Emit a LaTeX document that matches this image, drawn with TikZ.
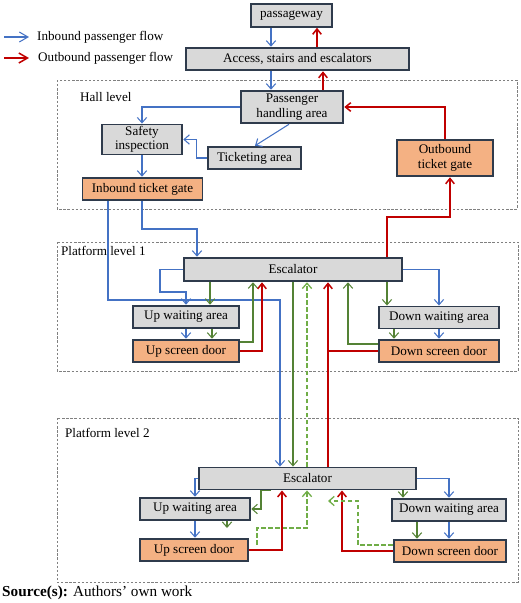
\documentclass[tikz,border=0pt]{standalone}
\usepackage{fontspec}
\setmainfont{Liberation Serif}
\usepackage{tikz}
\usetikzlibrary{arrows.meta, positioning}

\definecolor{inblue}{HTML}{4472C4}
\definecolor{outred}{HTML}{C00000}
\definecolor{xfergreen}{HTML}{548235}
\definecolor{dashgreen}{HTML}{70AD47}
\definecolor{boxline}{HTML}{2F3B4C}
\definecolor{boxgray}{HTML}{D9D9D9}
\definecolor{gateorange}{HTML}{F4B183}

\begin{document}
\begin{tikzpicture}[x=0.03cm, y=-0.03cm,
    font=\fontsize{11.2}{12.4}\selectfont,
    area/.style={draw=boxline, line width=1.6pt, fill=boxgray, align=center,
        inner sep=0pt, minimum height=6.8mm},
    gate/.style={area, fill=gateorange},
    level/.style={draw=gray, line width=0.6pt, dash pattern=on 2pt off 1.5pt},
    inflow/.style={draw=inblue, line width=0.9pt, -{Straight Barb[length=1.6mm,width=2.8mm]}},
    outflow/.style={draw=outred, line width=1.3pt, -{Straight Barb[length=1.6mm,width=2.6mm]}},
    xfer/.style={draw=xfergreen, line width=0.9pt, -{Straight Barb[length=1.6mm,width=2.8mm]}},
    xferback/.style={draw=dashgreen, line width=1.1pt, dash pattern=on 4pt off 2pt,
        -{Straight Barb[length=1.6mm,width=2.8mm]}}
]
    \useasboundingbox (0,0) rectangle (520,603);

    % Legend
    \coordinate (inkey) at (4,37);
    \coordinate (outkey) at (4,58);
    \node[anchor=west, inner sep=0pt] (inlabel) at (37,37) {Inbound passenger flow};
    \node[anchor=west, inner sep=0pt] (outlabel) at (38,58) {Outbound passenger flow};
    \draw[inflow, -{Straight Barb[length=2.6mm,width=3mm]}, shorten >=2.4mm] (inkey) -- (inlabel.west);
    \draw[outflow, -{Straight Barb[length=2.6mm,width=3mm]}, shorten >=2.7mm] (outkey) -- (outlabel.west);

    % Level frames
    \draw[level] (57,80) rectangle (517,209);
    \draw[level] (57,242) rectangle (518,371);
    \draw[level] (57,418) rectangle (518,582);
    \node[anchor=west] (hall) at (76,97) {Hall level};
    \node[anchor=west] (plat1) at (57,251) {Platform level 1};
    \node[anchor=west] (plat2) at (61,433) {Platform level 2};

    % Street and hall level
    \node[area, minimum width=24.5mm] (pass) at (291.5,15.5) {passageway};
    \node[area, minimum width=67mm] (access) at (297.5,59) {Access, stairs and escalators};
    \node[area, minimum width=30.8mm, minimum height=9.8mm] (pha) at (292,107) {Passenger\\handling area};
    \node[area, minimum width=24.2mm, minimum height=9mm] (safety) at (142,139.5) {Safety\\inspection};
    \node[area, minimum width=28mm] (ticket) at (254.5,158) {Ticketing area};
    \node[gate, minimum width=36mm] (ingate) at (142.5,189) {Inbound ticket gate};
    \node[gate, minimum width=29mm, minimum height=11mm] (outgate) at (445,158) {Outbound\\ticket gate};

    % Platform level 1
    \node[area, minimum width=65.6mm, minimum height=7.1mm] (esc1) at (293,269.5) {Escalator};
    \node[area, minimum width=32mm] (uwa1) at (186,317) {Up waiting area};
    \node[gate, minimum width=32mm] (usd1) at (186,351) {Up screen door};
    \node[area, minimum width=36.2mm, minimum height=6.6mm] (dwa1) at (439,317.5) {Down waiting area};
    \node[gate, minimum width=36.2mm] (dsd1) at (439,351) {Down screen door};

    % Platform level 2
    \node[area, minimum width=65.3mm, minimum height=6.6mm] (esc2) at (307.5,478.5) {Escalator};
    \node[area, minimum width=33.2mm] (uwa2) at (195,509) {Up waiting area};
    \node[gate, minimum width=32.6mm] (usd2) at (194,550) {Up screen door};
    \node[area, minimum width=34.4mm] (dwa2) at (449,510) {Down waiting area};
    \node[gate, minimum width=33.8mm] (dsd2) at (450,551) {Down screen door};

    % Hall flows
    \draw[inflow] (271,0 |- pass.south) -- (271,0 |- access.north);
    \draw[outflow] (317,0 |- access.north) -- (317,0 |- pass.south);
    \draw[inflow] (271,0 |- access.south) -- (271,0 |- pha.north);
    \draw[outflow] (323,0 |- pha.north) -- (323,0 |- access.south);
    \draw[inflow] (pha.west) -| (safety.north);
    \draw[inflow] (289,0 |- pha.south) -- (255,0 |- ticket.north);
    \draw[inflow] (ticket.west) -- ++(-10,0) |- (safety.east);
    \draw[inflow] (safety.south) -- (safety.south |- ingate.north);
    \draw[outflow] (outgate.north) |- (pha.east);
    \draw[outflow] (387,0 |- esc1.north) |- (450,217) -- (450,0 |- outgate.south);

    % Platform 1 flows
    \draw[inflow] (108,0 |- ingate.south) |- (280,300) -- (280,0 |- esc2.north);
    \draw[inflow] (142,0 |- ingate.south) |- (197,229) -- (197,0 |- esc1.north);
    \draw[inflow] (esc1.west) -| (160,292) -| (uwa1.north);
    \draw[xfer] (210,0 |- esc1.south) -- (210,0 |- uwa1.north);
    \draw[inflow] (uwa1.south) -- (usd1.north);
    \draw[xfer] (212,0 |- uwa1.south) -- (212,0 |- usd1.north);
    \draw[xfer] (usd1.east |- 0,342) -| (253,0 |- esc1.south);
    \draw[outflow] (usd1.east) -| (262,0 |- esc1.south);
    \draw[xfer] (293,0 |- esc1.south) -- (293,0 |- esc2.north);
    \draw[xferback] (307,0 |- esc2.north) -- (307,0 |- esc1.south);
    \draw[outflow, -] (328,0 |- esc2.north) -- (328,0 |- dsd1.west);
    \draw[outflow] (dsd1.west) -| (328,0 |- esc1.south);
    \draw[xfer] (dsd1.west |- 0,344) -| (348,0 |- esc1.south);
    \draw[xfer] (387,0 |- esc1.south) -- (387,0 |- dwa1.north);
    \draw[inflow] (esc1.east) -| (dwa1.north);
    \draw[xfer] (394,0 |- dwa1.south) -- (394,0 |- dsd1.north);
    \draw[inflow] (dwa1.south) -- (dsd1.north);

    % Platform 2 flows
    \coordinate (uwa2stub) at (227,528);
    \coordinate (usd2dash) at (257,545);
    \coordinate (dashend) at (328,501);
    \draw[inflow] (esc2.west) -| (uwa2.north);
    \draw[inflow] (uwa2.south) -- (uwa2.south |- usd2.north);
    \draw[xfer] (271,0 |- esc2.south) -- (261,0 |- esc2.south) |- (uwa2.east);
    \draw[xfer] (uwa2stub |- uwa2.south) -- (uwa2stub);
    \draw[xferback] (usd2dash) |- (307,528) -- (307,0 |- esc2.south);
    \draw[outflow] (usd2.east) -| (282,0 |- esc2.south);
    \draw[outflow] (dsd2.west) -| (342,0 |- esc2.south);
    \draw[xferback] (dsd2.west |- 0,545) -| (358,501) -- (dashend);
    \draw[xfer] (403,0 |- esc2.south) -- (403,0 |- dwa2.north);
    \draw[inflow] (esc2.east) -| (dwa2.north);
    \draw[xfer] (417,0 |- dwa2.south) -- (417,0 |- dsd2.north);
    \draw[inflow] (dwa2.south) -- (dwa2.south |- dsd2.north);

    % Source line
    \node[anchor=west, inner sep=0pt, font=\fontsize{13}{15}\selectfont] (source) at (2,593)
        {\textbf{Source(s):} Authors’ own work};
\end{tikzpicture}
\end{document}
